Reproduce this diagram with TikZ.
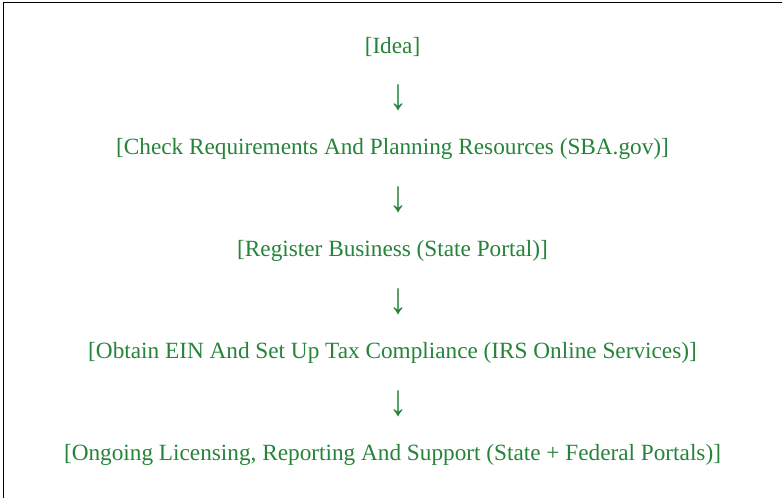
\documentclass[tikz,border=0pt]{standalone}
\usepackage{fontspec}
\setmainfont{Liberation Serif}
\usepackage{xcolor}
\usepackage{graphicx}
\usepackage{tikz}
\usetikzlibrary{calc, positioning}
\definecolor{stepgreen}{RGB}{38, 132, 58}
\newcommand{\downglyph}{\scalebox{1}[1.22]{↓}}
\tikzset{
    stepnode/.style = {draw=none, fill=none, rectangle, inner sep = 0em, text=stepgreen,
      font=\fontsize{23.25}{28}\selectfont, node distance=51pt},
    arrownode/.style = {stepnode, font=\fontsize{36}{40}\selectfont, xshift=6pt},
    frameline/.style = {black, line width=1pt}
}

\begin{document}
\begin{tikzpicture}[x=1pt, y=1pt]
    \useasboundingbox (0,0) rectangle (782,-498);
    \fill [white] (-2,2) rectangle (784,-500);
    \draw [frameline] (3,-498) -- (3,-2.5) -- (782,-2.5);

    \node [stepnode, name=idea] at (392.5,-47) {[Idea]};
    \node [arrownode, name=arrowa, below of = idea] {\downglyph};
    \node [stepnode, name=check, below of = arrowa, xshift=-6pt] {[Check Requirements And Planning Resources (SBA.gov)]};
    \node [arrownode, name=arrowb, below of = check] {\downglyph};
    \node [stepnode, name=register, below of = arrowb, xshift=-6pt] {[Register Business (State Portal)]};
    \node [arrownode, name=arrowc, below of = register] {\downglyph};
    \node [stepnode, name=obtain, below of = arrowc, xshift=-6pt] {[Obtain EIN And Set Up Tax Compliance (IRS Online Services)]};
    \node [arrownode, name=arrowd, below of = obtain] {\downglyph};
    \node [stepnode, name=ongoing, below of = arrowd, xshift=-6pt] {[Ongoing Licensing, Reporting And Support (State + Federal Portals)]};
\end{tikzpicture}
\end{document}
